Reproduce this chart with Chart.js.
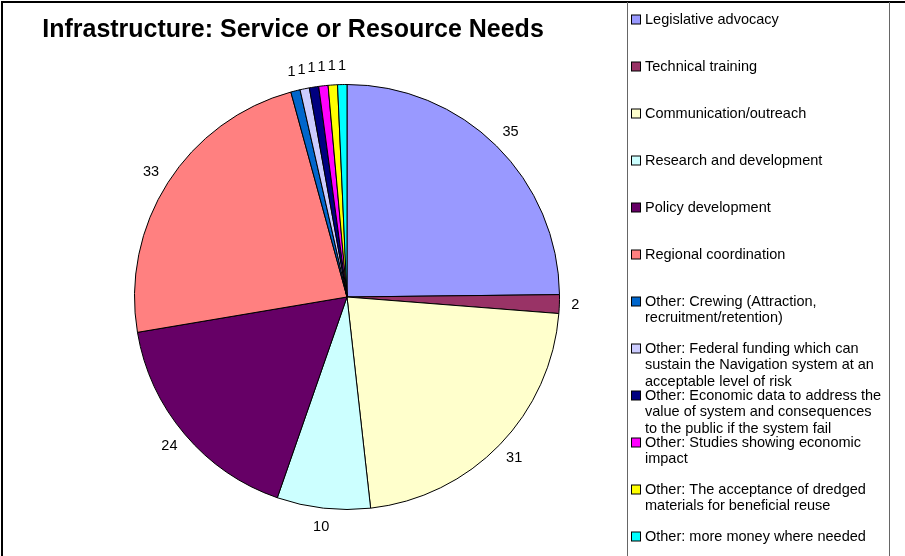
<!DOCTYPE html>
<html>
<head>
<meta charset="utf-8">
<title>Infrastructure: Service or Resource Needs</title>
<script src="https://cdn.jsdelivr.net/npm/chart.js@4.4.1/dist/chart.umd.min.js"></script>
<style>
  html, body { margin: 0; padding: 0; background: #fff; }
  #wrap { width: 905px; height: 556px; }
</style>
</head>
<body>
<div id="wrap"><canvas id="needsChart" width="905" height="556"></canvas></div>
<script>
// Datos del gráfico
const chartTitle = "Infrastructure: Service or Resource Needs";

const categories = [
  "Legislative advocacy",
  "Technical training",
  "Communication/outreach",
  "Research and development",
  "Policy development",
  "Regional coordination",
  "Other: Crewing (Attraction, recruitment/retention)",
  "Other: Federal funding which can sustain the Navigation system at an acceptable level of risk",
  "Other: Economic data to address the value of system and consequences to the public if the system fail",
  "Other: Studies showing economic impact",
  "Other: The acceptance of dredged materials for beneficial reuse",
  "Other: more money where needed"
];

const counts = [35, 2, 31, 10, 24, 33, 1, 1, 1, 1, 1, 1];

const sliceColors = [
  "#9999FF", "#993366", "#FFFFCC", "#CCFFFF", "#660066", "#FF8080",
  "#0066CC", "#CCCCFF", "#000080", "#FF00FF", "#FFFF00", "#00FFFF"
];

const FONT = "Arial, 'Liberation Sans', sans-serif";

// Etiquetas de valor por fuera de cada porción
const sliceLabels = {
  id: "sliceLabels",
  afterDatasetsDraw(chart) {
    const ctx = chart.ctx;
    const meta = chart.getDatasetMeta(0);
    const values = chart.data.datasets[0].data;
    ctx.save();
    ctx.font = "14.5px " + FONT;
    ctx.fillStyle = "#000";
    ctx.textAlign = "center";
    ctx.textBaseline = "middle";
    meta.data.forEach((arc, i) => {
      const p = arc.getProps(["x", "y", "startAngle", "endAngle", "outerRadius"], true);
      const mid = (p.startAngle + p.endAngle) / 2;
      const text = String(values[i]);
      const w = ctx.measureText(text).width;
      const h = 14;
      const r = p.outerRadius + 12;
      const lx = p.x + r * Math.cos(mid) + (w / 2) * Math.cos(mid);
      const ly = p.y + r * Math.sin(mid) + (h / 2) * Math.sin(mid);
      ctx.fillText(text, lx, ly);
    });
    ctx.restore();
  }
};

// Título, marco y leyenda a la derecha (con texto en varias líneas)
const sideLegend = {
  id: "sideLegend",
  afterDraw(chart) {
    const ctx = chart.ctx;
    const colors = chart.data.datasets[0].backgroundColor;
    ctx.save();

    // marco exterior
    ctx.strokeStyle = "#000";
    ctx.lineWidth = 2;
    ctx.beginPath();
    ctx.moveTo(2, 556);
    ctx.lineTo(2, 2);
    ctx.lineTo(905, 2);
    ctx.stroke();

    // título
    ctx.fillStyle = "#000";
    ctx.font = "bold 25px " + FONT;
    ctx.textAlign = "center";
    ctx.textBaseline = "middle";
    ctx.fillText(chartTitle, 293, 30);

    // caja de la leyenda
    ctx.strokeStyle = "#666";
    ctx.lineWidth = 1;
    ctx.beginPath();
    ctx.moveTo(627.5, 2);
    ctx.lineTo(627.5, 556);
    ctx.moveTo(889.5, 2);
    ctx.lineTo(889.5, 556);
    ctx.stroke();

    ctx.font = "14.5px " + FONT;
    ctx.textAlign = "left";
    const maxW = 240;
    chart.data.labels.forEach((label, i) => {
      const y0 = 19.5 + i * 47;
      // partir el texto en líneas
      const words = label.split(" ");
      const lines = [];
      let line = "";
      words.forEach((wd) => {
        const test = line ? line + " " + wd : wd;
        if (ctx.measureText(test).width > maxW && line) {
          lines.push(line);
          line = wd;
        } else {
          line = test;
        }
      });
      lines.push(line);

      ctx.fillStyle = colors[i];
      ctx.fillRect(631.5, y0 - 4.5, 9, 9);
      ctx.strokeStyle = "#000";
      ctx.strokeRect(631.5, y0 - 4.5, 9, 9);

      ctx.fillStyle = "#000";
      lines.forEach((ln, k) => {
        ctx.fillText(ln, 645, y0 + k * 16.7);
      });
    });
    ctx.restore();
  }
};

// eslint-disable-next-line no-undef
new Chart(document.getElementById("needsChart"), {
  type: "pie",
  data: {
    labels: categories,
    datasets: [
      {
        data: counts,
        backgroundColor: sliceColors,
        borderColor: "#000",
        borderWidth: 1
      }
    ]
  },
  options: {
    responsive: false,
    animation: false,
    layout: {
      padding: { left: 134, right: 345, top: 84, bottom: 46 }
    },
    plugins: {
      legend: { display: false },
      title: { display: false },
      tooltip: { enabled: false }
    }
  },
  plugins: [sliceLabels, sideLegend]
});
</script>
</body>
</html>
